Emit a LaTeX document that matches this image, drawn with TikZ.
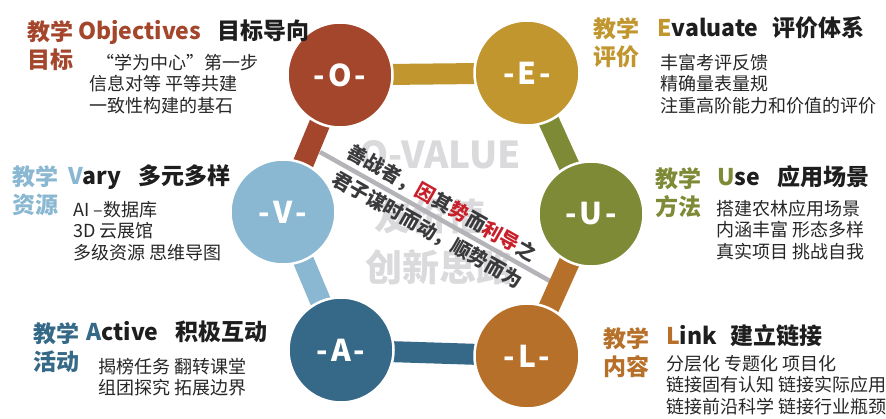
\documentclass[tikz,border=0pt]{standalone}
\usepackage{fontspec}
\setmainfont{Noto Sans CJK SC}
\usetikzlibrary{backgrounds}
\definecolor{ocol}{HTML}{A4462C}
\definecolor{ecol}{HTML}{C1962F}
\definecolor{ucol}{HTML}{7E8A35}
\definecolor{lcol}{HTML}{B7702A}
\definecolor{acol}{HTML}{356987}
\definecolor{vcol}{HTML}{8AB7D1}
\definecolor{titlecol}{HTML}{1E1E1E}
\definecolor{subcol}{HTML}{262626}
\definecolor{wmcol}{HTML}{DADADC}
\definecolor{mottocol}{HTML}{3A3A3C}
\definecolor{mred}{HTML}{C8202A}
\definecolor{linecol}{HTML}{B4B4B8}
\newcommand{\balltext}[1]{-\kern3pt#1\kern3pt-}
\begin{document}
\begin{tikzpicture}[x=1pt,y=-1pt,
  ball/.style={circle, draw=white, line width=2.5pt, minimum size=105pt, inner sep=0pt, text=white, font=\fontsize{30}{30}\selectfont\bfseries},
  conn/.style={line width=21pt},
  lab/.style={anchor=west, inner sep=0pt, align=left, font=\fontsize{23}{28}\selectfont\bfseries},
  ttl/.style={anchor=base west, inner sep=0pt, font=\fontsize{23}{28}\selectfont\bfseries, text=titlecol},
  sub/.style={anchor=west, inner sep=0pt, align=left, text=subcol, font=\fontsize{18}{21.5}\selectfont},
  wm/.style={text=wmcol, font=\fontsize{37}{37}\selectfont\bfseries, inner sep=0pt},
  motto/.style={rotate=-29.5, inner sep=0pt, text=mottocol, font=\fontsize{19.5}{20}\selectfont\bfseries}
]
\path[use as bounding box] (0,0) rectangle (886,419);

% circles
\node[ball, fill=ocol] (O) at (340,75) {\balltext{O}};
\node[ball, fill=ecol] (E) at (527,73) {\balltext{E}};
\node[ball, fill=ucol] (U) at (591,214) {\balltext{U}};
\node[ball, fill=lcol] (L) at (527,356) {\balltext{L}};
\node[ball, fill=acol] (A) at (341,350) {\balltext{A}};
\node[ball, fill=vcol] (V) at (283,212) {\balltext{V}};

\begin{scope}[on background layer]
  \node[wm] (wm1) at (440,155) {O-VALUE};
  \node[wm] (wm2) at (430,217) {友价值};
  \node[wm] (wm3) at (439,267) {创新思路};
  \coordinate (g1) at (320,152);
  \coordinate (g2) at (557,285);
  \draw[line width=4.5pt, linecol] (g1) -- (g2);
  \draw[conn, ecol] (O.center) -- (E.center);
  \draw[conn, ucol] (E.center) -- (U.center);
  \draw[conn, lcol] (U.center) -- (L.center);
  \draw[conn, acol] (L.center) -- (A.center);
  \draw[conn, vcol] (A.center) -- (V.center);
  \draw[conn, ocol] (V.center) -- (O.center);
\end{scope}

% motto
\node[motto] (m1) at (442,203) {善战者，\textcolor{mred}{因}其\textcolor{mred}{势}而\textcolor{mred}{利导}之};
\node[motto] (m2) at (427,230) {君子谋时而动，顺势而为};

% O block
\node[lab, text=ocol] (Olab) at (27,46) {教学\\目标};
\node[ttl, text=ocol] (Ottl) at (78,40) {Objectives};
\node[ttl] (Ottl2) at (217,40) {目标导向};
\node[sub] (Osub) at (89,84) {\hspace*{7pt}“学为中心”第一步\\信息对等 平等共建\\一致性构建的基石};

% E block
\node[lab, text=ecol] (Elab) at (593,43) {教学\\评价};
\node[ttl] (Ettl) at (657,37) {\textcolor{ecol}{E}valuate};
\node[ttl] (Ettl2) at (772,37) {评价体系};
\node[sub] (Esub) at (660,84) {丰富考评反馈\\精确量表量规\\注重高阶能力和价值的评价};

% V block
\node[lab, text=vcol] (Vlab) at (12,190.5) {教学\\资源};
\node[ttl] (Vttl) at (68,185) {\textcolor{vcol}{V}ary};
\node[ttl] (Vttl2) at (138,185) {多元多样};
\node[sub] (Vsub) at (73,231) {AI –数据库\\3D 云展馆\\多级资源 思维导图};

% U block
\node[lab, text=ucol] (Ulab) at (655,193) {教学\\方法};
\node[ttl] (Uttl) at (717,186) {\textcolor{ucol}{U}se};
\node[ttl] (Uttl2) at (777,186) {应用场景};
\node[sub] (Usub) at (716,230) {搭建农林应用场景\\内涵丰富 形态多样\\真实项目 挑战自我};

% A block
\node[lab, text=acol] (Alab) at (33,348) {教学\\活动};
\node[ttl] (Attl) at (86,341) {\textcolor{acol}{A}ctive};
\node[ttl] (Attl2) at (175,341) {积极互动};
\node[sub] (Asub) at (98,377) {揭榜任务 翻转课堂\\组团探究 拓展边界};

% L block
\node[lab, text=lcol] (Llab) at (603,352.5) {教学\\内容};
\node[ttl] (Lttl) at (666,345) {\textcolor{lcol}{L}ink};
\node[ttl] (Lttl2) at (730,345) {建立链接};
\node[sub] (Lsub) at (666,385) {分层化 专题化 项目化\\链接固有认知 链接实际应用\\链接前沿科学 链接行业瓶颈};
\end{tikzpicture}
\end{document}
